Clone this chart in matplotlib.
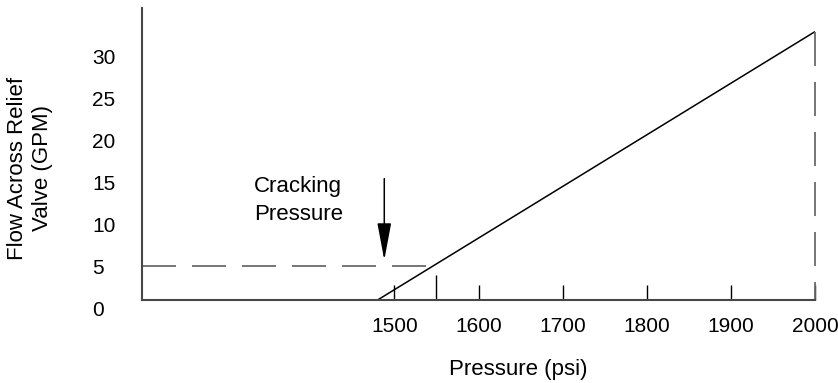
import matplotlib
matplotlib.use('Agg')
import matplotlib.pyplot as plt

plt.rcParams['font.family'] = ['Liberation Sans', 'DejaVu Sans']
plt.rcParams['lines.scale_dashes'] = False

# data
pressure = [1480, 2000]          # relief valve line (psi)
flow = [0.95, 32.9]              # GPM
axis_y = 0.95                    # where the pressure axis sits
crack_flow = 5
crack_end = 1543                 # dashed line meets the valve line
arrow_x = 1488
arrow_from, arrow_to = 15.4, 5.7
x_ticks = [1500, 1600, 1700, 1800, 1900, 2000]
y_ticks = [0, 5, 10, 15, 20, 25, 30]

fig = plt.figure(figsize=(8.38, 3.83), dpi=100)
ax = fig.add_axes([142 / 838, 75 / 383, 673 / 838, 300 / 383])
ax.set_xlim(1200, 2000)
ax.set_ylim(0, 300 / 8.4)

axis_col = '#474747'
dash_col = '#6a6a6a'

for s in ['top', 'right']:
    ax.spines[s].set_visible(False)
ax.spines['bottom'].set_position(('data', axis_y))
ax.spines['left'].set_bounds(axis_y, 300 / 8.4)
for s in ['bottom', 'left']:
    ax.spines[s].set_linewidth(1.5)
    ax.spines[s].set_color(axis_col)

# main line
ax.plot(pressure, flow, color='black', lw=1.1, solid_capstyle='butt',
        clip_on=False)

# dashed guides
ax.plot([1200, crack_end], [crack_flow, crack_flow], color=dash_col, lw=1.3,
        dashes=(24.5, 11.5))
ax.plot([2000, 2000], [flow[1], axis_y], color=dash_col, lw=1.3,
        dashes=(24.5, 11.5), clip_on=False)

# cracking pressure arrow
ax.annotate('', xy=(arrow_x, arrow_to), xytext=(arrow_x, arrow_from),
            arrowprops=dict(arrowstyle='-|>,head_length=2.3,head_width=0.43',
                            mutation_scale=10, shrinkA=0, shrinkB=0,
                            color='black', lw=1.1))
ax.text(1333, 15.7, 'Cracking\nPressure', fontsize=16, ha='left', va='top',
        multialignment='left', linespacing=1.4)

# ticks
ax.set_xticks(x_ticks)
ax.set_xticklabels([str(v) for v in x_ticks])
ax.set_xticks([1550], minor=True)
ax.tick_params(axis='x', which='major', direction='in', length=10.8, width=1,
               color='black', pad=12, labelsize=15)
ax.tick_params(axis='x', which='minor', direction='in', length=18, width=1,
               color='black')
ax.set_yticks(y_ticks)
ax.set_yticklabels([str(v) for v in y_ticks])
ax.tick_params(axis='y', length=0, pad=36, labelsize=15)
for t in ax.get_yticklabels():
    t.set_ha('left')

fig.text(518 / 838, 1 - 370 / 383, 'Pressure (psi)', fontsize=16,
         ha='center', va='center')
fig.text(30 / 838, 1 - 168 / 383, 'Flow Across Relief\nValve (GPM)',
         fontsize=16, rotation=90, ha='center', va='center')

fig.savefig('out.png', dpi=100)
